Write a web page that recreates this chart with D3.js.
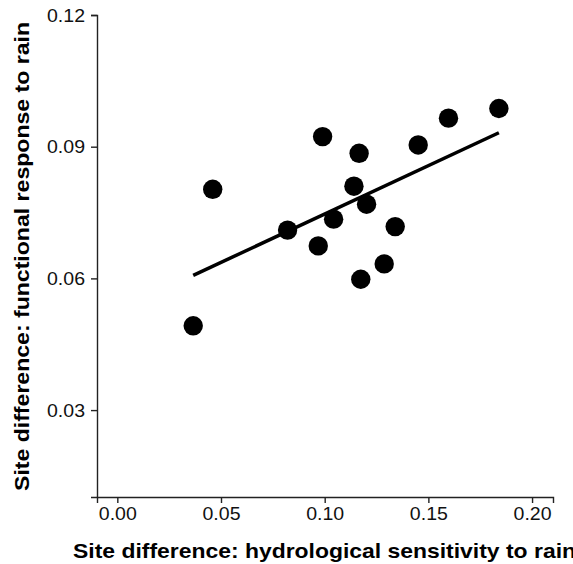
<!DOCTYPE html>
<html>
<head>
<meta charset="utf-8">
<script src="https://cdn.jsdelivr.net/npm/d3@7"></script>
<style>
  body { margin: 0; background: #fff; }
  svg { display: block; font-family: "Liberation Sans", Arial, sans-serif; }
</style>
</head>
<body>
<div id="chart"></div>
<script>
// values
var hydroDiff = [0.0366, 0.0460, 0.0990, 0.1166, 0.1141, 0.1202, 0.0821, 0.1043,
                 0.0969, 0.1340, 0.1287, 0.1174, 0.1451, 0.1597, 0.1840];
var funcDiff  = [0.0492, 0.0803, 0.0923, 0.0885, 0.0810, 0.0769, 0.0710, 0.0735,
                 0.0674, 0.0718, 0.0633, 0.0598, 0.0904, 0.0965, 0.0987];
var xTicks = [0.00, 0.05, 0.10, 0.15, 0.20];
var yTicks = [0.03, 0.06, 0.09, 0.12];

var data = hydroDiff.map(function(d, i) { return {x: d, y: funcDiff[i]}; });

var W = 573, H = 564;
var margin = {top: 15, right: 20, bottom: 67, left: 97},
    width = W - margin.left - margin.right,
    height = H - margin.top - margin.bottom;

var svg = d3.select("#chart").append("svg")
    .attr("width", W)
    .attr("height", H);

var g = svg.append("g")
    .attr("transform", "translate(" + margin.left + "," + margin.top + ")");

var x = d3.scaleLinear().domain([-0.0098, 0.2101]).range([0, width]);
var y = d3.scaleLinear().domain([0.0102, 0.12]).range([height, 0]);

// axes
var xAxis = g.append("g")
    .attr("transform", "translate(0," + height + ")")
    .call(d3.axisBottom(x).tickValues(xTicks).tickFormat(d3.format(".2f")).tickSizeOuter(0).tickSize(6).tickPadding(4));
var yAxis = g.append("g")
    .call(d3.axisLeft(y).tickValues(yTicks).tickFormat(d3.format(".2f")).tickSizeOuter(0).tickSize(6).tickPadding(6));

[xAxis, yAxis].forEach(function(a) {
  a.select(".domain").attr("stroke", "#222").attr("stroke-width", 1.4);
  a.selectAll(".tick line").attr("stroke", "#222").attr("stroke-width", 1.4);
  a.selectAll(".tick text").attr("font-size", "19px").attr("fill", "#111")
    .attr("font-family", "'Liberation Sans', Arial, sans-serif")
    .attr("textLength", 38).attr("lengthAdjust", "spacingAndGlyphs");
});

// regression line
var mx = d3.mean(data, d => d.x), my = d3.mean(data, d => d.y);
var slope = d3.sum(data, d => (d.x - mx) * (d.y - my)) / d3.sum(data, d => (d.x - mx) * (d.x - mx));
var icpt = my - slope * mx;
var xr = d3.extent(data, d => d.x);

g.append("line")
    .attr("x1", x(xr[0])).attr("y1", y(icpt + slope * xr[0]))
    .attr("x2", x(xr[1])).attr("y2", y(icpt + slope * xr[1]))
    .attr("stroke", "#000")
    .attr("stroke-width", 3.5);

// points
g.append("g")
  .selectAll("circle")
  .data(data)
  .enter()
  .append("circle")
    .attr("cx", d => x(d.x))
    .attr("cy", d => y(d.y))
    .attr("r", 9.7)
    .attr("fill", "#000");

// axis titles
svg.append("text")
    .attr("x", 73)
    .attr("y", 558)
    .attr("font-size", "21px")
    .attr("font-weight", "bold")
    .attr("fill", "#000")
    .attr("textLength", 503)
    .attr("lengthAdjust", "spacingAndGlyphs")
    .text("Site difference: hydrological sensitivity to rain");

svg.append("text")
    .attr("transform", "translate(28.5,256.5) rotate(-90)")
    .attr("text-anchor", "middle")
    .attr("font-size", "21px")
    .attr("font-weight", "bold")
    .attr("fill", "#000")
    .attr("textLength", 469)
    .attr("lengthAdjust", "spacingAndGlyphs")
    .text("Site difference: functional response to rain");
</script>
</body>
</html>
